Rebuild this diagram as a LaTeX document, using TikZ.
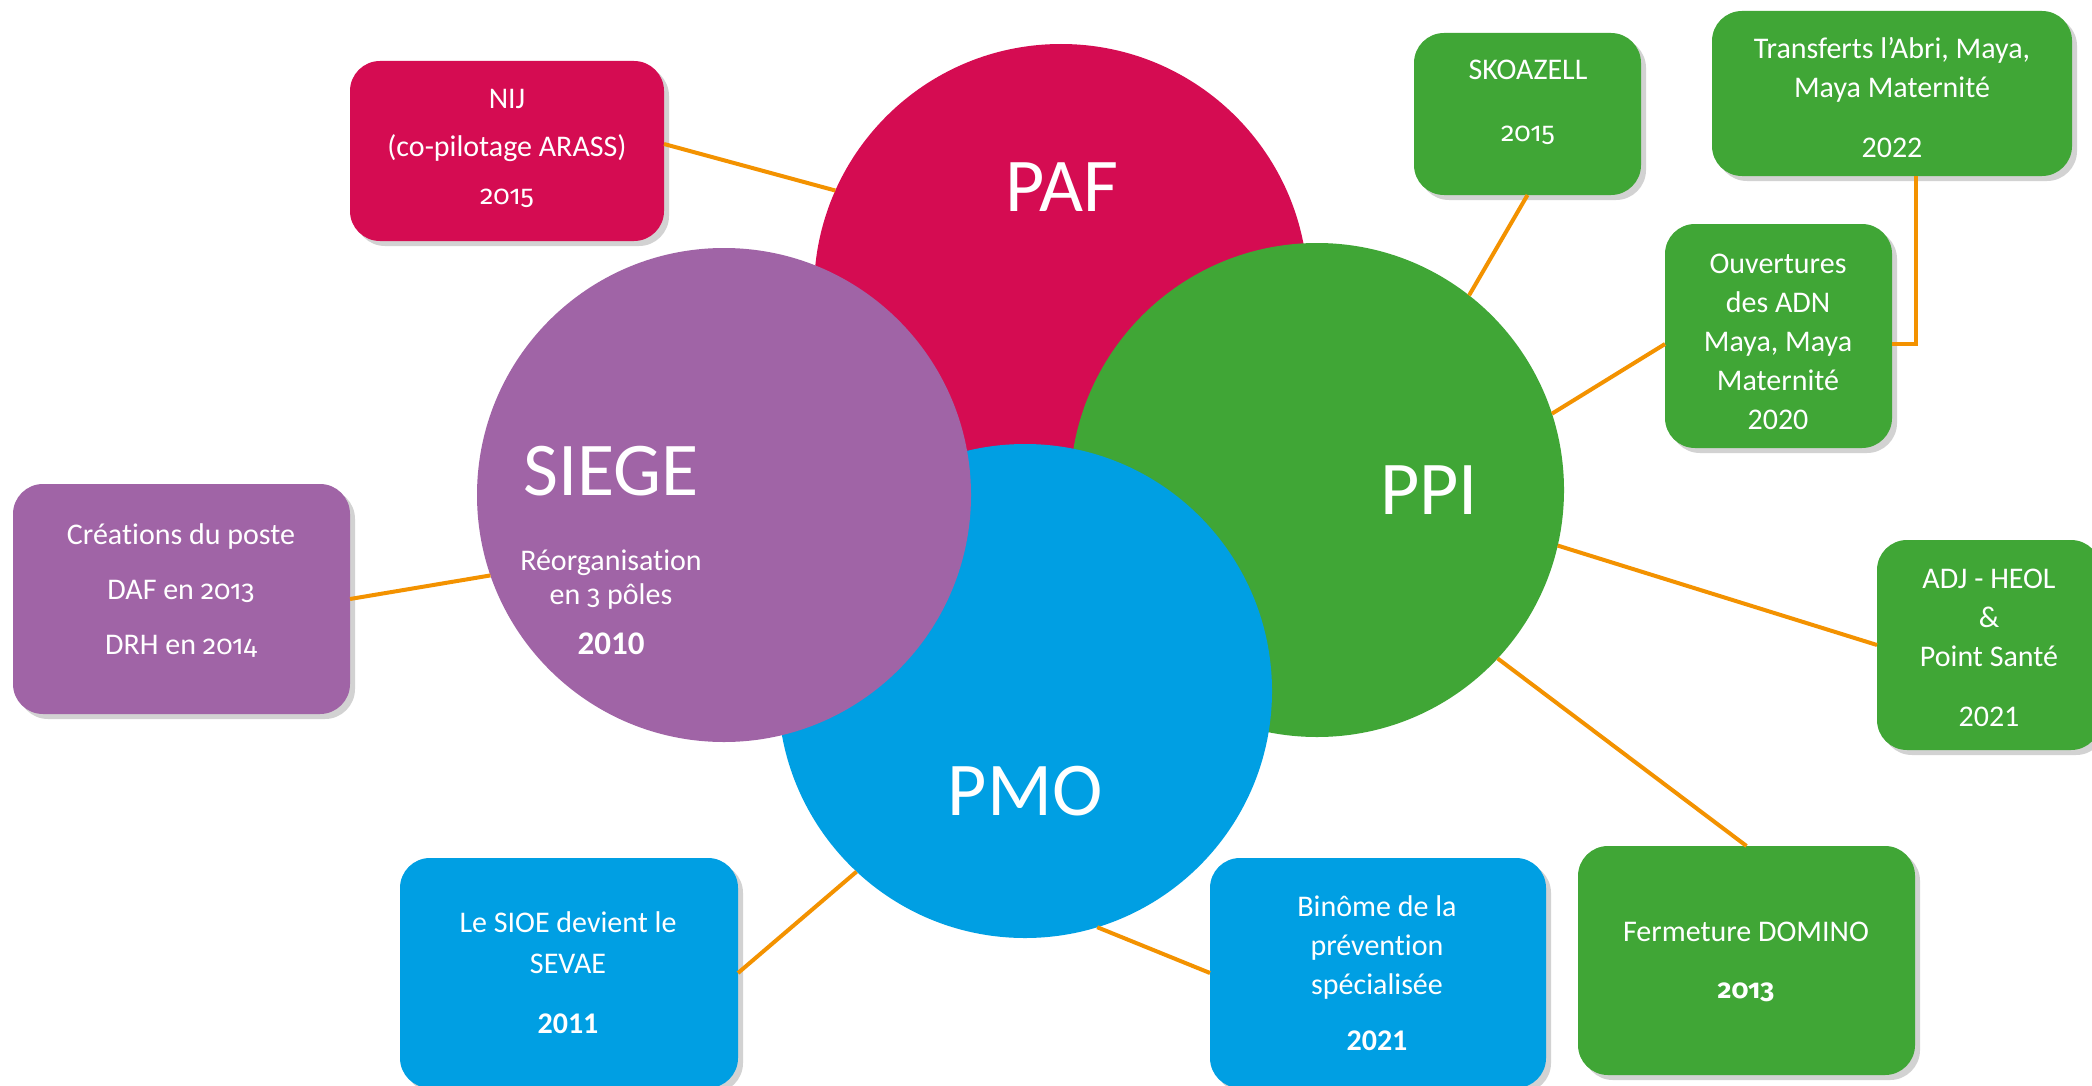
\documentclass[tikz,border=0pt]{standalone}
\usepackage{fontspec}
\setmainfont{Carlito}[Ligatures=NoCommon]
\newfontfamily\osf{Fira Sans}[Numbers=OldStyle, Scale=0.9]
\usetikzlibrary{shadows,calc}
\definecolor{pafred}{RGB}{213,12,82}
\definecolor{ppigreen}{RGB}{64,166,54}
\definecolor{siegepurple}{RGB}{160,100,166}
\definecolor{pmoblue}{RGB}{0,159,227}
\definecolor{linkorange}{RGB}{243,146,0}
\tikzset{
  pole/.style={circle, minimum size=247pt, inner sep=0pt, outer sep=0pt},
  card/.style={rounded corners=15pt, inner sep=0pt, outer sep=0pt,
    drop shadow={shadow xshift=2.5pt, shadow yshift=-2.5pt, opacity=0.25, fill=black!70}},
  biglabel/.style={text=white, font=\fontsize{38}{40}\selectfont, inner sep=0pt},
  cardtext/.style={text=white, align=center, inner sep=0pt, font=\fontsize{15}{19.5}\selectfont},
  link/.style={draw=linkorange, line width=2pt},
}
\begin{document}
\begin{tikzpicture}[x=0.5pt,y=-0.5pt]
\useasboundingbox (0,0) rectangle (2092,1086);
\clip (0,0) rectangle (2092,1086);
\fill[white] (0,0) rectangle (2092,1086);

% poles
\node[pole, fill=pafred] (paf) at (1061,291) {};
\node[pole, fill=ppigreen] (ppi) at (1317,490) {};
\node[pole, fill=pmoblue] (pmo) at (1025,691) {};
\node[pole, fill=siegepurple] (siege) at (724,495) {};

% cards
\node[card, fill=pafred, minimum width=157pt, minimum height=90pt] (nij) at (507,151) {};
\node[card, fill=ppigreen, minimum width=113.5pt, minimum height=81pt] (skoa) at (1527.5,114) {};
\node[card, fill=ppigreen, minimum width=180pt, minimum height=82.5pt] (transf) at (1892,93.5) {};
\node[card, fill=ppigreen, minimum width=113.5pt, minimum height=112pt] (ouv) at (1778.5,336) {};
\node[card, fill=siegepurple, minimum width=168.5pt, minimum height=115pt] (crea) at (181.5,599) {};
\node[card, fill=ppigreen, minimum width=112pt, minimum height=105pt] (adj) at (1989,645) {};
\node[card, fill=pmoblue, minimum width=169pt, minimum height=115pt] (sioe) at (569,973) {};
\node[card, fill=pmoblue, minimum width=168pt, minimum height=115pt] (binome) at (1378,973) {};
\node[card, fill=ppigreen, minimum width=168.5pt, minimum height=114.5pt] (ferm) at (1746.5,960.5) {};

% connectors
\draw[link] ([yshift=3.5pt]nij.east) -- (paf.156);
\draw[link] (skoa.south) -- (ppi.52);
\draw[link] ([yshift=-4pt]ouv.west) -- (ppi.18);
\draw[link] ([xshift=12pt]transf.south) |- ([yshift=-4pt]ouv.east);
\draw[link] (crea.east) -- (siege.199);
\draw[link] (adj.west) -- (ppi.-13);
\draw[link] (ferm.north) -- (ppi.-43);
\draw[link] (sioe.east) -- (pmo.227);
\draw[link] (binome.west) -- (pmo.-73);

% pole labels
\node[biglabel] (paf-l) at (1062,187) {PAF};
\node[biglabel] (ppi-l) at (1429,490) {PPI};
\node[biglabel] (pmo-l) at (1025,791) {PMO};
\node[biglabel] (siege-l) at (611,471) {SIEGE};
\node[cardtext] (reorg-t) at (611,602) {Réorganisation\\[-2.5pt]en {\osf 3} pôles\\[5.5pt]{\fontsize{16.5}{19.5}\selectfont\bfseries 2010}};

% card texts
\node[cardtext] (nij-t) at (507,148) {NIJ\\[4.5pt](co-pilotage ARASS)\\[4.5pt]{\osf 2015}};
\node[cardtext] (skoa-t) at (1528,102) {SKOAZELL\\[11.5pt]{\osf 2015}};
\node[cardtext] (transf-t) at (1892,97.5) {Transferts l’Abri, Maya,\\Maya Maternité\\[10.5pt]2022};
\node[cardtext] (ouv-t) at (1778,341.5) {Ouvertures\\des ADN\\Maya, Maya\\Maternité\\2020};
\node[cardtext] (crea-t) at (181,590.5) {Créations du poste\\[8pt]DAF en {\osf 2013}\\[8pt]DRH en {\osf 2014}};
\node[cardtext] (adj-t) at (1989,648) {ADJ - HEOL\\\&\\Point Santé\\[10.5pt]2021};
\node[cardtext] (sioe-t) at (568,972.5) {Le SIOE devient le\\[1pt]SEVAE\\[10.5pt]{\bfseries 2011}};
\node[cardtext] (binome-t) at (1377,973.5) {Binôme de la\\prévention\\spécialisée\\[8.5pt]{\bfseries 2021}};
\node[cardtext] (ferm-t) at (1746,961.5) {Fermeture DOMINO\\[9pt]{\bfseries\osf 2013}};
\end{tikzpicture}
\end{document}
